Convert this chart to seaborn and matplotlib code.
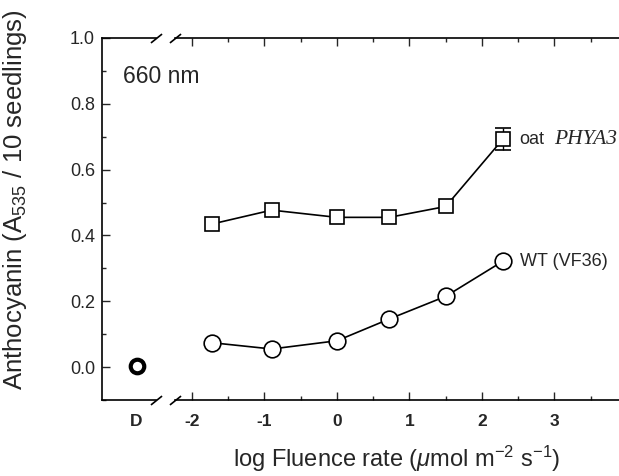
import numpy as np
import pandas as pd
import matplotlib.pyplot as plt
import seaborn as sns
from matplotlib.ticker import MultipleLocator

# values
log_fluence = [-1.72, -0.9, 0.0, 0.72, 1.5, 2.29]
wt_vf36 = [0.074, 0.055, 0.080, 0.146, 0.215, 0.322]
oat_phya3 = [0.435, 0.477, 0.455, 0.455, 0.488, 0.693]
oat_phya3_err = [0, 0, 0, 0, 0, 0.033]
dark_label = ["D"]
dark_value = [0.004]
x_ticks = [-2, -1, 0, 1, 2, 3]
y_ticks = [0.0, 0.2, 0.4, 0.6, 0.8, 1.0]

sns.set_style("ticks")
plt.rcParams["font.family"] = ["Liberation Sans", "DejaVu Sans"]
plt.rcParams["mathtext.fontset"] = "custom"
plt.rcParams["mathtext.rm"] = "Liberation Sans"
plt.rcParams["mathtext.it"] = "Liberation Sans:italic"

df = pd.DataFrame({"x": log_fluence, "wt": wt_vf36, "phya": oat_phya3, "err": oat_phya3_err})

W, H = 619, 476
fig = plt.figure(figsize=(W / 100, H / 100), dpi=100)


def px_box(left, right, top, bottom):
    return [left / W, 1 - bottom / H, (right - left) / W, (bottom - top) / H]


ax_d = fig.add_axes(px_box(102, 156, 38, 400))
ax = fig.add_axes(px_box(175, 619, 38, 400), sharey=ax_d)
ax.patch.set_visible(False)

# main curves
line_kw = dict(color="black", linewidth=1.2, markerfacecolor="white",
               markeredgecolor="black", markeredgewidth=1.2, zorder=3)
sns.lineplot(data=df, x="x", y="phya", ax=ax, marker="s", markersize=9.5, **line_kw)
sns.lineplot(data=df, x="x", y="wt", ax=ax, marker="o", markersize=12, **line_kw)

has_err = df["err"] > 0
ax.errorbar(df.loc[has_err, "x"], df.loc[has_err, "phya"], yerr=df.loc[has_err, "err"],
            fmt="none", ecolor="black", elinewidth=1, capsize=5.5, capthick=1.2, zorder=2)

# dark control
sns.scatterplot(x=[0], y=dark_value, ax=ax_d, s=95, facecolor="white",
                edgecolor="black", linewidth=3, zorder=3)

ax.set_xlim(-2.234, 3.89)
ax_d.set_xlim(-0.64, 0.36)
ax_d.set_ylim(-0.1, 1.0)

for a in (ax, ax_d):
    a.set_xlabel("")
    a.set_ylabel("")
    for s in a.spines.values():
        s.set_linewidth(1.2)
        s.set_color("black")

ax_d.spines["right"].set_visible(False)
ax.spines["left"].set_visible(False)
ax.spines["right"].set_visible(False)

ax.set_xticks(x_ticks)
ax.set_xticklabels([str(t) for t in x_ticks], fontsize=12.5, fontweight="bold")
ax.xaxis.set_minor_locator(MultipleLocator(0.5))
ax.tick_params(axis="x", which="both", direction="in", top=True, bottom=True, pad=10)
ax.tick_params(axis="x", which="major", length=6, width=1)
ax.tick_params(axis="x", which="minor", length=3, width=1)
ax.tick_params(axis="y", which="both", left=False, labelleft=False)

ax_d.set_xticks([0])
ax_d.set_xticklabels(dark_label, fontsize=12.5, fontweight="bold")
ax_d.tick_params(axis="x", length=0, pad=10)
ax_d.set_yticks(y_ticks)
ax_d.set_yticklabels([f"{t:.1f}" for t in y_ticks], fontsize=13)
ax_d.yaxis.set_minor_locator(MultipleLocator(0.1))
ax_d.tick_params(axis="y", which="both", direction="in", pad=5)
ax_d.tick_params(axis="y", which="major", length=6, width=1)
ax_d.tick_params(axis="y", which="minor", length=3, width=1)

# axis break marks
brk = dict(marker=[(-1, -0.8), (1, 0.8)], markersize=8, linestyle="none",
           color="black", mec="black", mew=1.2, clip_on=False)
ax_d.plot([1, 1], [0, 1], transform=ax_d.transAxes, **brk)
ax.plot([0, 0], [0, 1], transform=ax.transAxes, **brk)

ax_d.text(0.39, 0.894, "660 nm", transform=ax_d.transAxes, fontsize=16.5,
          ha="left", va="center", zorder=5)

ax.annotate("oat", xy=(log_fluence[-1], oat_phya3[-1]), xytext=(12, 0),
            textcoords="offset points", fontsize=13, ha="left", va="center")
ax.annotate("PHYA3", xy=(log_fluence[-1], oat_phya3[-1]), xytext=(37, 0),
            textcoords="offset points", fontsize=15.5, ha="left", va="center",
            family="Liberation Serif", style="italic")
ax.annotate("WT (VF36)", xy=(log_fluence[-1], wt_vf36[-1]), xytext=(12, 0),
            textcoords="offset points", fontsize=13, ha="left", va="center")

fig.text(15 / W, 1 - 200 / H, r"Anthocyanin (A$_{535}$ / 10 seedlings)",
         rotation=90, ha="center", va="center", fontsize=18.5)
fig.text(397 / W, 1 - 459 / H, r"log Fluence rate ($\mu$mol m$^{-2}$ s$^{-1}$)",
         ha="center", va="center", fontsize=17)

fig.savefig("out.png", dpi=100)
